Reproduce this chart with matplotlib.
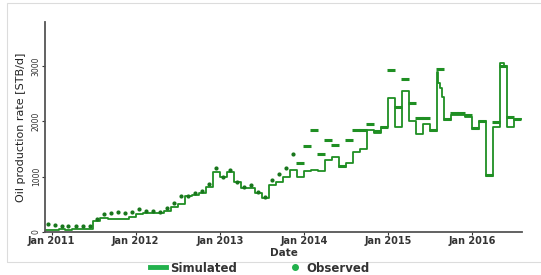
import matplotlib.pyplot as plt
import matplotlib.dates as mdates
import pandas as pd
import numpy as np
from matplotlib.lines import Line2D
from matplotlib.patches import Rectangle

# simulated rate, monthly steps from Dec 2010 (plus a few mid-month changes)
sim_dates = (list(pd.date_range('2010-12-01', '2015-08-01', freq='MS'))
             + [pd.Timestamp('2015-08-08'), pd.Timestamp('2015-08-16'), pd.Timestamp('2015-08-24')]
             + list(pd.date_range('2015-09-01', '2016-05-01', freq='MS'))
             + [pd.Timestamp('2016-05-20')]
             + list(pd.date_range('2016-06-01', '2016-08-05', freq='MS')))
sim_vals = [40,
            40, 50, 40, 50, 60, 50, 200, 250, 240, 230, 230, 280,
            330, 350, 350, 350, 380, 450, 500, 650, 670, 700, 820, 1080,
            1000, 1080, 900, 800, 800, 700, 620, 850, 900, 1000, 1130, 1000,
            1100, 1130, 1100, 1300, 1350, 1170, 1250, 1450, 1500, 1850, 1800, 1900,
            2420, 1900, 2550, 2000, 1780, 1950, 1820, 2900,
            2700, 2600, 2450,
            2030, 2120, 2120, 2080,
            1860, 2000, 1020, 1900, 3050,
            3000,
            1900, 2050, 2050]

# observed rate, monthly (plotted mid-month)
obs_dates = pd.date_range('2010-12-01', '2016-07-01', freq='MS') + pd.Timedelta(days=14)
obs_vals = [150,
            120, 110, 110, 110, 100, 100, 230, 330, 340, 360, 350, 370,
            410, 380, 380, 370, 430, 520, 650, 660, 700, 750, 870, 1150,
            1000, 1120, 900, 820, 850, 720, 640, 940, 1050, 1160, 1420, 1250,
            1550, 1840, 1410, 1670, 1570, 1200, 1660, 1840, 1840, 1960, 1830, 1900,
            2930, 2270, 2760, 2330, 2070, 2070, 1840, 2950, 2050, 2150, 2150, 2110,
            1880, 2010, 1030, 1990, 3000, 2080, 2050]

green = '#1f8f23'
legend_green = '#22b14c'

fig = plt.figure(figsize=(5.41, 2.75), dpi=100)
fig.patches.append(Rectangle((7 / 541, 1 - 262 / 275), 540 / 541, 259 / 275,
                             transform=fig.transFigure, fill=False,
                             edgecolor='#dcdcdc', linewidth=0.8))
ax = fig.add_axes([45 / 541, 1 - 232 / 275, 477 / 541, 210 / 275])

ax.step(sim_dates, sim_vals, where='post', color=green, linewidth=1.3)

obs_dates = np.array(obs_dates)
obs_vals = np.array(obs_vals)
early = obs_dates < np.datetime64('2013-12-01')
ax.plot(obs_dates[early], obs_vals[early], linestyle='none', marker='o',
        markersize=2.0, color='#17761b')
ax.plot(obs_dates[~early], obs_vals[~early], linestyle='none', marker='_',
        markersize=6, markeredgewidth=2.2, color=green)

ax.set_xlim(pd.Timestamp('2010-12-03'), pd.Timestamp('2016-08-05'))
ax.set_ylim(0, 3800)
ax.set_yticks([0, 1000, 2000, 3000])
ax.xaxis.set_major_locator(mdates.YearLocator())
ax.xaxis.set_major_formatter(mdates.DateFormatter('Jan %Y'))

for s in ['top', 'right']:
    ax.spines[s].set_visible(False)
for s in ['left', 'bottom']:
    ax.spines[s].set_color('#555555')
    ax.spines[s].set_linewidth(1.3)

ax.tick_params(axis='x', labelsize=7, length=2, pad=1, colors='#333333')
ax.tick_params(axis='y', labelsize=5.5, length=2, pad=1, colors='#333333')
for t in ax.get_xticklabels():
    t.set_fontweight('bold')
for t in ax.get_yticklabels():
    t.set_rotation(90)
    t.set_va('center')

ax.set_xlabel('Date', fontsize=7.5, fontweight='bold', color='#333333', labelpad=1)
ax.set_ylabel('Oil production rate [STB/d]', fontsize=8, color='#222222', labelpad=4)

handles = [Line2D([], [], color=legend_green, linewidth=3.5),
           Line2D([], [], color=legend_green, linestyle='none', marker='o', markersize=4)]
fig.legend(handles, ['Simulated', 'Observed'], loc='center', bbox_to_anchor=(0.48, 1 - 268 / 275),
           ncol=2, frameon=False, handlelength=1.4, handletextpad=0.3, columnspacing=4.2,
           prop={'size': 8.5, 'weight': 'bold'}, labelcolor='#333333')

fig.savefig('out.png', dpi=100)
